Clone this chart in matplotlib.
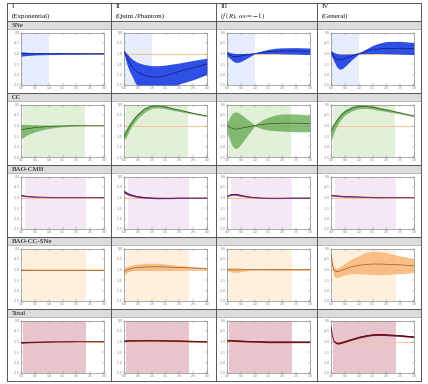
import numpy as np
import matplotlib
matplotlib.use('Agg')
import matplotlib.pyplot as plt
from matplotlib.lines import Line2D
from matplotlib.patches import Rectangle

plt.rcParams['mathtext.fontset'] = 'stix'
plt.rcParams['axes.unicode_minus'] = False

W, H = 428, 384

# redshift grid shared by all panels
Z = [0.0, 0.05, 0.1, 0.2, 0.3, 0.4, 0.5, 0.75, 1.0, 1.25, 1.5, 1.75, 2.0, 2.5, 3.0]

col_titles = ['I', 'II', 'III', 'IV']
col_subtitles = ['(Exponential)', '(Quint./Phantom)', r'($f\ (R)$, $\omega_0 = -1$)', '(General)']
row_labels = ['SNe', 'CC', 'BAO-CMB', 'BAO-CC-SNe', 'Total']

# data coverage (shaded) per row
cover = [(0.01, 1.0), (0.07, 2.32), (0.15, 2.34), (0.06, 2.34), (0.06, 2.34)]

# ---- SNe
mid_sne = [
    [-1.01, -1.01, -1.01, -1.0, -1.0, -1.0, -1.0, -1.0, -1.0, -1.0, -1.0, -1.0, -1.0, -1.0, -1.0],
    [-0.9, -1.05, -1.2, -1.45, -1.65, -1.8, -1.9, -2.05, -2.12, -2.12, -2.05, -1.95, -1.85, -1.68, -1.5],
    [-1.0, -1.04, -1.08, -1.13, -1.15, -1.14, -1.12, -1.06, -1.0, -0.95, -0.91, -0.89, -0.88, -0.88, -0.89],
    [-0.95, -1.05, -1.15, -1.27, -1.3, -1.28, -1.24, -1.12, -1.0, -0.9, -0.82, -0.78, -0.76, -0.75, -0.77],
]
hi_sne = [
    [-0.92, -0.925, -0.93, -0.94, -0.95, -0.95, -0.96, -0.96, -0.97, -0.97, -0.97, -0.97, -0.98, -0.98, -0.98],
    [-0.83, -0.92, -1.0, -1.15, -1.27, -1.36, -1.43, -1.53, -1.58, -1.58, -1.55, -1.5, -1.45, -1.33, -1.22],
    [-0.88, -0.92, -0.95, -0.98, -1.0, -1.0, -1.0, -0.99, -0.99, -0.88, -0.8, -0.75, -0.73, -0.72, -0.74],
    [-0.85, -0.9, -0.95, -1.0, -1.02, -1.03, -1.03, -1.02, -0.98, -0.8, -0.62, -0.5, -0.43, -0.42, -0.48],
]
lo_sne = [
    [-1.13, -1.12, -1.11, -1.1, -1.09, -1.08, -1.07, -1.06, -1.05, -1.05, -1.04, -1.04, -1.04, -1.03, -1.03],
    [-0.95, -1.25, -1.5, -1.85, -2.1, -2.4, -2.55, -2.8, -2.9, -2.85, -2.75, -2.6, -2.45, -2.25, -2.0],
    [-1.12, -1.17, -1.22, -1.35, -1.42, -1.42, -1.38, -1.2, -1.01, -1.0, -1.0, -1.0, -1.01, -1.03, -1.05],
    [-1.05, -1.2, -1.35, -1.62, -1.75, -1.72, -1.62, -1.3, -1.02, -1.0, -1.0, -1.0, -1.01, -1.03, -1.05],
]

# ---- CC
mid_cc = [
    [-1.2, -1.19, -1.18, -1.16, -1.14, -1.12, -1.1, -1.07, -1.05, -1.03, -1.02, -1.01, -1.0, -1.0, -1.0],
    [-1.55, -1.42, -1.3, -1.05, -0.85, -0.66, -0.5, -0.22, -0.08, -0.07, -0.12, -0.2, -0.27, -0.42, -0.55],
    [-1.0, -1.04, -1.08, -1.15, -1.17, -1.16, -1.13, -1.07, -1.0, -0.95, -0.92, -0.9, -0.89, -0.89, -0.9],
    [-1.3, -1.17, -1.05, -0.82, -0.63, -0.48, -0.36, -0.18, -0.1, -0.09, -0.13, -0.2, -0.26, -0.4, -0.55],
]
hi_cc = [
    [-0.95, -0.95, -0.95, -0.95, -0.95, -0.96, -0.96, -0.97, -0.98, -0.98, -0.99, -0.99, -1.0, -1.0, -1.0],
    [-1.3, -1.2, -1.1, -0.88, -0.7, -0.55, -0.41, -0.14, 0.0, 0.0, -0.05, -0.15, -0.22, -0.38, -0.52],
    [-0.85, -0.72, -0.6, -0.4, -0.35, -0.38, -0.47, -0.72, -0.98, -0.75, -0.6, -0.5, -0.45, -0.45, -0.5],
    [-1.1, -0.99, -0.88, -0.68, -0.5, -0.36, -0.25, -0.08, 0.0, 0.0, -0.05, -0.13, -0.2, -0.36, -0.52],
]
lo_cc = [
    [-1.65, -1.6, -1.55, -1.47, -1.4, -1.35, -1.3, -1.21, -1.14, -1.09, -1.06, -1.04, -1.02, -1.01, -1.0],
    [-1.75, -1.62, -1.5, -1.22, -1.0, -0.82, -0.65, -0.36, -0.18, -0.16, -0.2, -0.27, -0.33, -0.46, -0.58],
    [-1.3, -1.5, -1.7, -2.0, -2.1, -2.05, -1.9, -1.45, -1.02, -1.15, -1.22, -1.25, -1.27, -1.3, -1.3],
    [-1.75, -1.55, -1.35, -1.05, -0.82, -0.64, -0.5, -0.3, -0.2, -0.18, -0.22, -0.28, -0.33, -0.45, -0.58],
]

# ---- BAO-CMB
mid_bc = [
    [-0.9, -0.91, -0.92, -0.94, -0.95, -0.96, -0.97, -0.98, -0.99, -1.0, -1.0, -1.0, -1.0, -1.0, -1.0],
    [-0.72, -0.76, -0.8, -0.86, -0.9, -0.93, -0.96, -1.0, -1.02, -1.03, -1.03, -1.03, -1.02, -1.02, -1.02],
    [-0.95, -0.91, -0.88, -0.85, -0.85, -0.87, -0.9, -0.96, -1.0, -1.02, -1.03, -1.03, -1.03, -1.02, -1.02],
    [-0.9, -0.905, -0.91, -0.92, -0.93, -0.94, -0.95, -0.96, -0.97, -0.98, -0.99, -1.0, -1.0, -1.0, -1.0],
]
hi_bc = [
    [-0.87, -0.88, -0.89, -0.915, -0.925, -0.94, -0.95, -0.965, -0.975, -0.99, -0.99, -0.99, -0.99, -0.99, -0.99],
    [-0.64, -0.69, -0.74, -0.81, -0.855, -0.89, -0.92, -0.965, -0.99, -1.0, -1.005, -1.005, -1.0, -1.0, -1.0],
    [-0.92, -0.88, -0.85, -0.81, -0.81, -0.83, -0.86, -0.93, -0.98, -1.0, -1.01, -1.01, -1.01, -1.0, -1.0],
    [-0.87, -0.875, -0.88, -0.89, -0.9, -0.91, -0.92, -0.935, -0.95, -0.96, -0.975, -0.985, -0.99, -0.99, -0.99],
]
lo_bc = [
    [-0.93, -0.94, -0.95, -0.965, -0.975, -0.98, -0.99, -0.995, -1.005, -1.01, -1.01, -1.01, -1.01, -1.01, -1.01],
    [-0.8, -0.83, -0.86, -0.91, -0.945, -0.97, -1.0, -1.035, -1.05, -1.06, -1.055, -1.055, -1.04, -1.04, -1.04],
    [-0.98, -0.94, -0.91, -0.89, -0.89, -0.91, -0.94, -0.99, -1.02, -1.04, -1.05, -1.05, -1.05, -1.04, -1.04],
    [-0.93, -0.935, -0.94, -0.95, -0.96, -0.97, -0.98, -0.985, -0.99, -1.0, -1.005, -1.015, -1.01, -1.01, -1.01],
]

# ---- BAO-CC-SNe
mid_bcs = [
    [-1.0, -1.0, -1.0, -1.0, -1.0, -1.0, -1.0, -1.0, -1.0, -1.0, -1.0, -1.0, -1.0, -1.0, -1.0],
    [-1.1, -1.06, -1.02, -0.97, -0.94, -0.92, -0.9, -0.88, -0.87, -0.87, -0.88, -0.89, -0.9, -0.93, -0.95],
    [-1.0, -1.0, -1.01, -1.02, -1.02, -1.02, -1.01, -1.01, -1.0, -1.0, -1.0, -1.0, -1.0, -1.0, -1.0],
    [-0.25, -0.75, -1.0, -1.1, -1.08, -1.03, -0.98, -0.87, -0.8, -0.76, -0.74, -0.74, -0.75, -0.78, -0.82],
]
hi_bcs = [
    [-0.95, -0.95, -0.955, -0.96, -0.96, -0.965, -0.965, -0.97, -0.97, -0.97, -0.97, -0.97, -0.97, -0.97, -0.97],
    [-0.88, -0.88, -0.86, -0.82, -0.79, -0.76, -0.74, -0.71, -0.7, -0.71, -0.74, -0.78, -0.81, -0.87, -0.91],
    [-0.95, -0.93, -0.92, -0.91, -0.91, -0.92, -0.94, -0.97, -0.99, -0.98, -0.97, -0.97, -0.97, -0.97, -0.97],
    [-0.2, -0.6, -0.85, -0.95, -0.9, -0.8, -0.7, -0.5, -0.35, -0.18, -0.14, -0.15, -0.2, -0.35, -0.48],
]
lo_bcs = [
    [-1.05, -1.05, -1.045, -1.04, -1.04, -1.035, -1.035, -1.03, -1.03, -1.03, -1.03, -1.03, -1.03, -1.03, -1.03],
    [-1.3, -1.22, -1.15, -1.08, -1.05, -1.04, -1.03, -1.03, -1.03, -1.02, -1.01, -1.0, -1.0, -0.99, -0.99],
    [-1.05, -1.08, -1.1, -1.13, -1.14, -1.13, -1.1, -1.05, -1.01, -1.02, -1.03, -1.03, -1.03, -1.03, -1.03],
    [-0.3, -1.0, -1.3, -1.4, -1.35, -1.3, -1.25, -1.2, -1.2, -1.22, -1.24, -1.25, -1.24, -1.2, -1.15],
]

# ---- Total
mid_tot = [
    [-1.05, -1.05, -1.045, -1.04, -1.035, -1.03, -1.03, -1.02, -1.015, -1.01, -1.01, -1.005, -1.0, -1.0, -1.0],
    [-0.97, -0.97, -0.965, -0.96, -0.96, -0.955, -0.955, -0.95, -0.95, -0.955, -0.96, -0.965, -0.97, -0.985, -1.0],
    [-0.94, -0.945, -0.95, -0.96, -0.965, -0.97, -0.975, -0.99, -1.0, -1.01, -1.02, -1.02, -1.02, -1.02, -1.02],
    [-0.3, -0.75, -0.98, -1.08, -1.08, -1.04, -1.0, -0.9, -0.8, -0.73, -0.68, -0.67, -0.68, -0.72, -0.78],
]
hi_tot = [
    [-1.01, -1.015, -1.015, -1.01, -1.01, -1.005, -1.005, -1.0, -0.995, -0.995, -0.995, -0.99, -0.99, -0.99, -0.99],
    [-0.94, -0.94, -0.935, -0.93, -0.93, -0.925, -0.925, -0.92, -0.92, -0.925, -0.93, -0.935, -0.94, -0.955, -0.97],
    [-0.9, -0.905, -0.915, -0.925, -0.93, -0.935, -0.94, -0.955, -0.965, -0.975, -0.985, -0.985, -0.985, -0.985, -0.985],
    [-0.25, -0.7, -0.94, -1.04, -1.04, -1.0, -0.96, -0.86, -0.76, -0.69, -0.64, -0.63, -0.64, -0.68, -0.74],
]
lo_tot = [
    [-1.09, -1.085, -1.075, -1.07, -1.06, -1.055, -1.055, -1.04, -1.035, -1.025, -1.025, -1.02, -1.01, -1.01, -1.01],
    [-1.0, -1.0, -0.995, -0.99, -0.99, -0.985, -0.985, -0.98, -0.98, -0.985, -0.99, -0.995, -1.0, -1.015, -1.03],
    [-0.98, -0.985, -0.985, -0.995, -1.0, -1.005, -1.01, -1.025, -1.035, -1.045, -1.055, -1.055, -1.055, -1.055, -1.055],
    [-0.35, -0.8, -1.02, -1.12, -1.12, -1.08, -1.04, -0.94, -0.84, -0.77, -0.72, -0.71, -0.72, -0.76, -0.82],
]

rows = [
    (mid_sne, lo_sne, hi_sne),
    (mid_cc, lo_cc, hi_cc),
    (mid_bc, lo_bc, hi_bc),
    (mid_bcs, lo_bcs, hi_bcs),
    (mid_tot, lo_tot, hi_tot),
]

# styles: band colour, band alpha, line colour, coverage colour
styles = [
    ('#2446e6', 0.95, '#0d1b6b', '#e8edfd'),
    ('#5fa84c', 0.75, '#2b5a1c', '#e2efd9'),
    ('#8a2a7e', 0.95, '#4a0b42', '#f4e8f4'),
    ('#f7b677', 0.85, '#9a5a25', '#fff0de'),
    ('#7d0b1c', 0.95, '#50000e', '#e8c4cc'),
]

col_x = [7, 111, 215.5, 317, 421]
ax_x = [21, 124, 227, 331]
ax_w = 83
band_top = [21, 93, 165, 237, 309]
band_h = 8
table_top, table_bot = 3, 381
ax_h = 52.5

serif = 'Liberation Serif'

fig = plt.figure(figsize=(W / 100, H / 100), dpi=100)

def fx(x):
    return x / W

def fy(y):
    return 1 - y / H

def hline(y, color='#555555', lw=0.7):
    fig.add_artist(Line2D([fx(col_x[0]), fx(col_x[-1])], [fy(y), fy(y)],
                          transform=fig.transFigure, color=color, lw=lw))

# gray row label bands
for r, bt in enumerate(band_top):
    fig.add_artist(Rectangle((fx(col_x[0]), fy(bt + band_h)), (col_x[-1] - col_x[0]) / W, band_h / H,
                             transform=fig.transFigure, facecolor='#dcdcdc', edgecolor='none'))
    hline(bt)
    hline(bt + band_h, color='#999999', lw=0.5)
    fig.text(fx(col_x[0] + 5), fy(bt + band_h / 2 + 0.3), row_labels[r], fontsize=5,
             family=serif, va='center', ha='left', color='#111111')

hline(table_top)
hline(table_bot)
for x in col_x:
    fig.add_artist(Line2D([fx(x), fx(x)], [fy(table_top), fy(table_bot)],
                          transform=fig.transFigure, color='#555555', lw=0.7))

# column headers
for c in range(4):
    fig.text(fx(col_x[c] + 5), fy(7), col_titles[c], fontsize=5, family=serif,
             va='center', ha='left', color='#111111')
    fig.text(fx(col_x[c] + 5), fy(16), col_subtitles[c], fontsize=5, family=serif,
             va='center', ha='left', color='#111111')

zz = np.array(Z)
for r in range(5):
    mid, lo, hi = rows[r]
    band_c, band_a, line_c, cov_c = styles[r]
    top = band_top[r] + band_h + 3.5
    for c in range(4):
        ax = fig.add_axes([fx(ax_x[c]), fy(top + ax_h), ax_w / W, ax_h / H])
        ax.axvspan(cover[r][0], cover[r][1], color=cov_c, lw=0, zorder=0)
        ax.axhline(-1.0, color='#f7c28f', lw=0.7, zorder=1)
        ax.fill_between(zz, lo[c], hi[c], color=band_c, alpha=band_a, lw=0, zorder=2)
        ax.plot(zz, mid[c], color=line_c, lw=0.5, zorder=3)
        ax.set_xlim(0, 3)
        ax.set_ylim(-2.5, 0)
        ax.set_xticks(np.arange(0, 3.01, 0.5))
        ax.set_yticks(np.arange(-2.5, 0.01, 0.5))
        ax.set_xticklabels(['%.1f' % t for t in np.arange(0, 3.01, 0.5)])
        ax.set_yticklabels(['%.1f' % t for t in np.arange(-2.5, 0.01, 0.5)])
        ax.tick_params(direction='in', length=1.2, width=0.3, labelsize=2.2, pad=1,
                       colors='#777777', top=True, right=True)
        for s in ax.spines.values():
            s.set_linestyle((0, (1, 1)))
            s.set_linewidth(0.5)
            s.set_color('#888888')

fig.savefig('out.png', dpi=100)
